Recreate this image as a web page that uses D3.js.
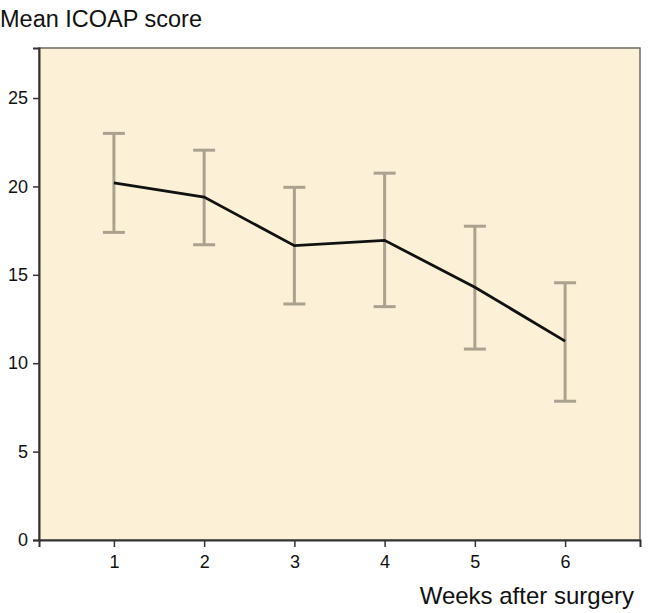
<!DOCTYPE html>
<html>
<head>
<meta charset="utf-8">
<script src="https://cdn.jsdelivr.net/npm/d3@7"></script>
<style>
  body { margin: 0; background: #fff; }
  svg { font-family: "Helvetica Neue", Helvetica, Arial, "Liberation Sans", sans-serif; }
</style>
</head>
<body>
<div id="chart"></div>
<script>
// Data
const weeks = [1, 2, 3, 4, 5, 6];
const meanScore = [20.2, 19.4, 16.65, 16.95, 14.3, 11.25];
const upperBound = [23.0, 22.05, 19.95, 20.75, 17.75, 14.55];
const lowerBound = [17.4, 16.7, 13.35, 13.2, 10.8, 7.85];
const yTicks = [0, 5, 10, 15, 20, 25];

const W = 649, H = 613;
const margin = { top: 48, right: 9, bottom: 73, left: 39 };
const width = W - margin.left - margin.right;
const height = H - margin.top - margin.bottom;

const svg = d3.select("#chart").append("svg")
    .attr("width", W)
    .attr("height", H);

const g = svg.append("g")
    .attr("transform", `translate(${margin.left},${margin.top})`);

const x = d3.scaleLinear().domain([0.17, 6.83]).range([0, width]);
const y = d3.scaleLinear().domain([0, 27.83]).range([height, 0]);

// plot background
g.append("rect")
    .attr("width", width)
    .attr("height", height)
    .attr("fill", "#fcf1d7")
    .attr("stroke", "#6e6a62")
    .attr("stroke-width", 1.5);

// axes
const yAxis = g.append("g")
    .call(d3.axisLeft(y).tickValues(yTicks).tickFormat(d3.format("d")).tickSize(6).tickPadding(5));
const xAxis = g.append("g")
    .attr("transform", `translate(0,${height})`)
    .call(d3.axisBottom(x).tickValues(weeks).tickFormat(d3.format("d")).tickSize(7).tickPadding(8));

[xAxis, yAxis].forEach(ax => {
  ax.select(".domain").attr("stroke", "#333").attr("stroke-width", 2);
  ax.selectAll(".tick line").attr("stroke", "#333").attr("stroke-width", 1.5);
  ax.selectAll(".tick text").attr("fill", "#111").style("font-size", "18px");
});

// error bars
const data = weeks.map((w, i) => ({ w, m: meanScore[i], hi: upperBound[i], lo: lowerBound[i] }));
const capW = 11;
const eb = g.append("g").attr("stroke", "#aaa28f").attr("stroke-width", 3).attr("fill", "none");
eb.selectAll("line.v").data(data).join("line").attr("class", "v")
    .attr("x1", d => x(d.w)).attr("x2", d => x(d.w))
    .attr("y1", d => y(d.hi)).attr("y2", d => y(d.lo));
eb.selectAll("line.t").data(data).join("line").attr("class", "t")
    .attr("x1", d => x(d.w) - capW).attr("x2", d => x(d.w) + capW)
    .attr("y1", d => y(d.hi)).attr("y2", d => y(d.hi));
eb.selectAll("line.b").data(data).join("line").attr("class", "b")
    .attr("x1", d => x(d.w) - capW).attr("x2", d => x(d.w) + capW)
    .attr("y1", d => y(d.lo)).attr("y2", d => y(d.lo));

// mean line
g.append("path")
    .datum(data)
    .attr("fill", "none")
    .attr("stroke", "#111")
    .attr("stroke-width", 2.8)
    .attr("d", d3.line().x(d => x(d.w)).y(d => y(d.m)));

// titles
svg.append("text")
    .attr("x", 0).attr("y", 27)
    .style("font-size", "23.5px")
    .attr("fill", "#111")
    .text("Mean ICOAP score");

svg.append("text")
    .attr("x", 634).attr("y", 604)
    .attr("text-anchor", "end")
    .style("font-size", "24px")
    .attr("fill", "#111")
    .text("Weeks after surgery");
</script>
</body>
</html>
